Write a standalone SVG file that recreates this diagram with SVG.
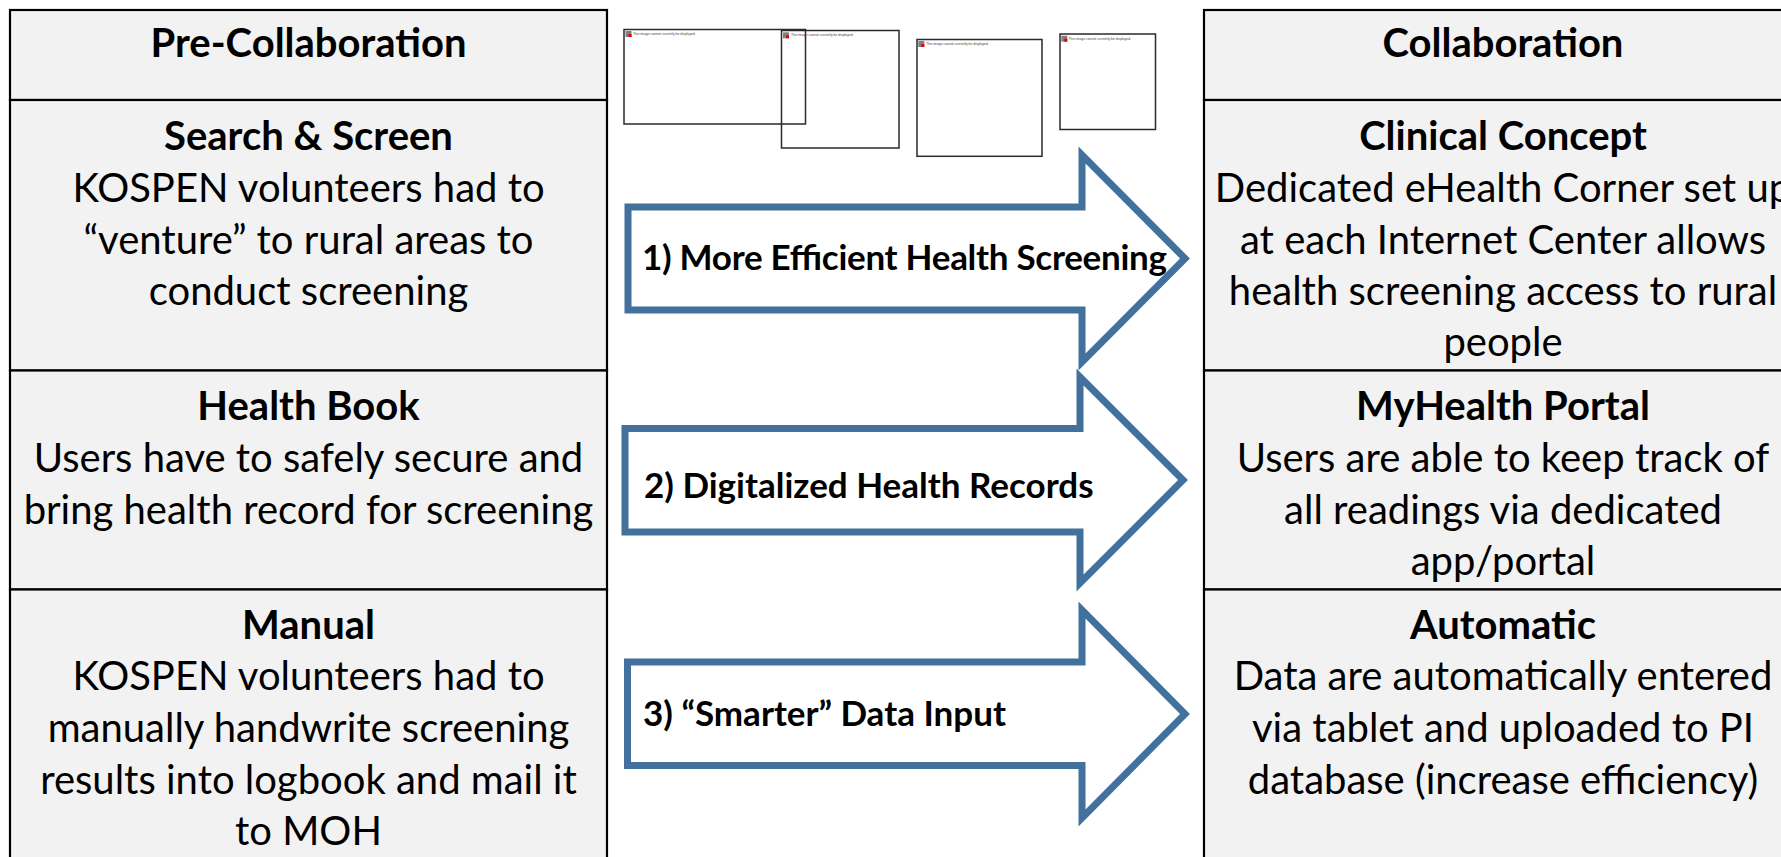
<svg xmlns="http://www.w3.org/2000/svg" width="1781" height="857" viewBox="0 0 1781 857">
<style>
.cell{fill:#f2f2f2;stroke:#000;stroke-width:2.2}
.t{font-family:Lato,"Liberation Sans",sans-serif;font-size:40px;fill:#000;text-anchor:middle}
.b{font-weight:bold}
.arrow{fill:#fff;stroke:#41719c;stroke-width:7;stroke-miterlimit:10}
.al{font-family:Lato,"Liberation Sans",sans-serif;font-size:35px;font-weight:bold;fill:#000}
.ph{fill:none;stroke:#2a2a2a;stroke-width:1.5}
.pht{font-family:"Liberation Sans",Arial,sans-serif;font-size:3.4px;fill:#444}
.ico{fill:#808080}
.icr{fill:#e00}
</style>
<rect width="1781" height="857" fill="#fff"/>

<g id="pre-collaboration">
  <g id="pre-header">
    <rect class="cell" x="10" y="10" width="597" height="90"/>
    <text class="t b" x="308.5" y="57">Pre-Collaboration</text>
  </g>
  <g id="search-screen">
    <rect class="cell" x="10" y="100" width="597" height="270.5"/>
    <text class="t b" x="308.5" y="150">Search &amp; Screen</text>
    <text class="t" x="308.5" y="202">KOSPEN volunteers had to</text>
    <text class="t" x="308.5" y="254">“venture” to rural areas to</text>
    <text class="t" x="308.5" y="305">conduct screening</text>
  </g>
  <g id="health-book">
    <rect class="cell" x="10" y="370.5" width="597" height="219"/>
    <text class="t b" x="308.5" y="420">Health Book</text>
    <text class="t" x="308.5" y="472">Users have to safely secure and</text>
    <text class="t" x="308.5" y="524">bring health record for screening</text>
  </g>
  <g id="manual">
    <rect class="cell" x="10" y="589.5" width="597" height="290"/>
    <text class="t b" x="308.5" y="639">Manual</text>
    <text class="t" x="308.5" y="690">KOSPEN volunteers had to</text>
    <text class="t" x="308.5" y="742">manually handwrite screening</text>
    <text class="t" x="308.5" y="794">results into logbook and mail it</text>
    <text class="t" x="308.5" y="845">to MOH</text>
  </g>
</g>

<g id="collaboration">
  <g id="col-header">
    <rect class="cell" x="1204" y="10" width="620" height="90"/>
    <text class="t b" x="1503" y="57">Collaboration</text>
  </g>
  <g id="clinical-concept">
    <rect class="cell" x="1204" y="100" width="620" height="270.5"/>
    <text class="t b" x="1503" y="150">Clinical Concept</text>
    <text class="t" x="1503" y="202">Dedicated eHealth Corner set up</text>
    <text class="t" x="1503" y="254">at each Internet Center allows</text>
    <text class="t" x="1503" y="305">health screening access to rural</text>
    <text class="t" x="1503" y="356">people</text>
  </g>
  <g id="myhealth-portal">
    <rect class="cell" x="1204" y="370.5" width="620" height="219"/>
    <text class="t b" x="1503" y="420">MyHealth Portal</text>
    <text class="t" x="1503" y="472">Users are able to keep track of</text>
    <text class="t" x="1503" y="524">all readings via dedicated</text>
    <text class="t" x="1503" y="575">app/portal</text>
  </g>
  <g id="automatic">
    <rect class="cell" x="1204" y="589.5" width="620" height="290"/>
    <text class="t b" x="1503" y="639">Automatic</text>
    <text class="t" x="1503" y="690">Data are automatically entered</text>
    <text class="t" x="1503" y="742">via tablet and uploaded to PI</text>
    <text class="t" x="1503" y="794">database (increase efficiency)</text>
  </g>
</g>

<g id="placeholders">
  <g id="img1">
    <rect class="ph" x="624" y="29.5" width="181.5" height="94.5"/>
    <rect class="ico" x="625.5" y="31" width="6" height="6"/><rect class="icr" x="628.5" y="34" width="3" height="3"/>
    <text class="pht" x="633" y="35">This image cannot currently be displayed.</text>
  </g>
  <g id="img2">
    <rect class="ph" x="781.5" y="30.5" width="117.5" height="117.5"/>
    <rect class="ico" x="783" y="32.3" width="6" height="6"/><rect class="icr" x="786" y="35.3" width="3" height="3"/>
    <text class="pht" x="791" y="36">This image cannot currently be displayed.</text>
  </g>
  <g id="img3">
    <rect class="ph" x="917" y="39.5" width="125" height="116.8"/>
    <rect class="ico" x="918.3" y="41" width="6" height="6"/><rect class="icr" x="921.3" y="44" width="3" height="3"/>
    <text class="pht" x="926" y="45">This image cannot currently be displayed.</text>
  </g>
  <g id="img4">
    <rect class="ph" x="1060" y="34" width="95.5" height="95.5"/>
    <rect class="ico" x="1061.3" y="35.7" width="6" height="6"/><rect class="icr" x="1064.3" y="38.7" width="3" height="3"/>
    <text class="pht" x="1068.5" y="40">This image cannot currently be displayed.</text>
  </g>
</g>

<g id="connectors">
  <g id="arrow1">
    <path class="arrow" d="M628,207 H1082 V155 L1185,258.5 L1082,362 V310 H628 Z"/>
    <text class="al" x="642" y="270" textLength="525">1) More Efficient Health Screening</text>
  </g>
  <g id="arrow2">
    <path class="arrow" d="M625,428.5 H1080 V377 L1183,480 L1080,583 V532 H625 Z"/>
    <text class="al" x="644" y="498">2) Digitalized Health Records</text>
  </g>
  <g id="arrow3">
    <path class="arrow" d="M627.5,662 H1082 V610 L1185,714 L1082,818 V765.5 H627.5 Z"/>
    <text class="al" x="643" y="726">3) “Smarter” Data Input</text>
  </g>
</g>
</svg>
